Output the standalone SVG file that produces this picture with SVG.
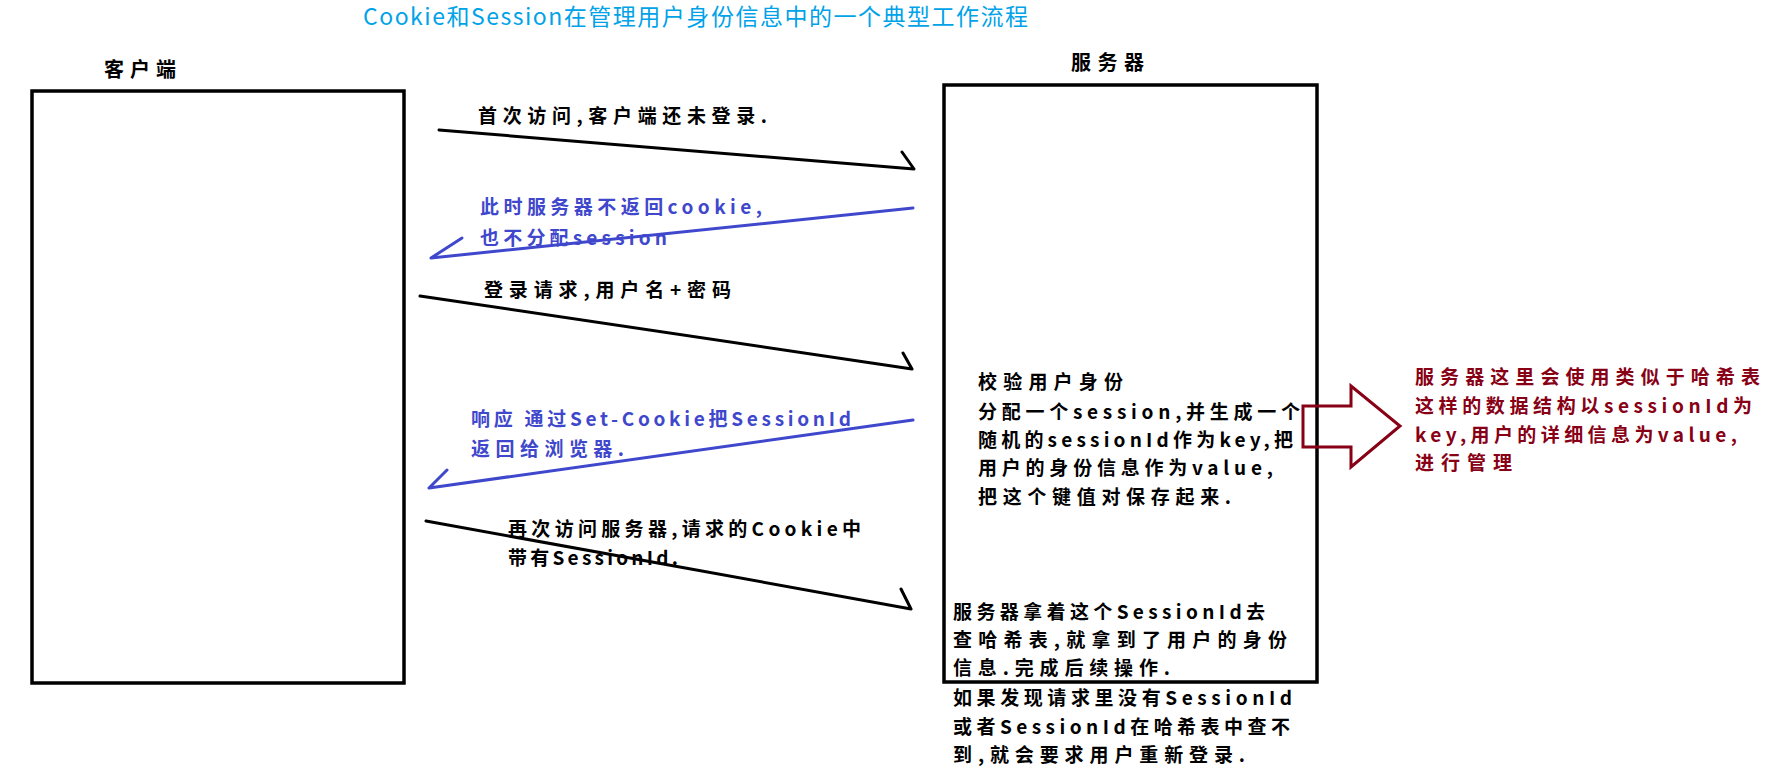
<svg xmlns="http://www.w3.org/2000/svg" width="1768" height="779" viewBox="0 0 1768 779">
<style>
text{font-family:"Noto Sans CJK SC","Noto Sans",sans-serif;font-size:19px;font-weight:bold}
.k{fill:#000}
.b{fill:#3F48CC}
.r{fill:#880015}
.t{fill:#00A2E8;font-size:23px;font-weight:normal}
.h{font-size:20px}
.box{fill:none;stroke:#000;stroke-width:3.5}
.ak{fill:none;stroke:#000;stroke-width:3;stroke-linecap:round;stroke-linejoin:round}
.ab{fill:none;stroke:#3F48CC;stroke-width:3;stroke-linecap:round;stroke-linejoin:round}
.ar{fill:none;stroke:#880015;stroke-width:3}
</style>
<rect width="1768" height="779" fill="#fff"/>
<text class="t" x="363" y="25" textLength="665">Cookie和Session在管理用户身份信息中的一个典型工作流程</text>
<g id="client">
<rect class="box" x="32" y="91" width="372" height="592"/>
<text class="k h" x="104" y="77" textLength="72">客户端</text>
</g>
<g id="server">
<rect class="box" x="944" y="85" width="373" height="597"/>
<text class="k h" x="1071" y="70" textLength="73">服务器</text>
<text class="k" x="978" y="389" textLength="145">校验用户身份</text>
<text class="k" x="978" y="418.5" textLength="322">分配一个session,并生成一个</text>
<text class="k" x="978" y="447" textLength="315">随机的sessionId作为key,把</text>
<text class="k" x="978" y="475" textLength="295">用户的身份信息作为value,</text>
<text class="k" x="978" y="503.5" textLength="253">把这个键值对保存起来.</text>
<text class="k" x="953" y="618.5" textLength="312">服务器拿着这个SessionId去</text>
<text class="k" x="953" y="647" textLength="334">查哈希表,就拿到了用户的身份</text>
<text class="k" x="953" y="675" textLength="217">信息.完成后续操作.</text>
<text class="k" x="953" y="705" textLength="339">如果发现请求里没有SessionId</text>
<text class="k" x="953" y="733.5" textLength="337">或者SessionId在哈希表中查不</text>
<text class="k" x="953" y="762" textLength="292">到,就会要求用户重新登录.</text>
</g>
<g id="note">
<polygon class="ar" points="1303,406 1351,406 1351,386 1400,426 1351,467 1351,447 1303,447"/>
<text class="r" x="1415" y="384" textLength="345">服务器这里会使用类似于哈希表</text>
<text class="r" x="1415" y="413" textLength="337">这样的数据结构以sessionId为</text>
<text class="r" x="1415" y="442" textLength="322">key,用户的详细信息为value,</text>
<text class="r" x="1415" y="470" textLength="97">进行管理</text>
</g>
<g id="connectors">
<path class="ak" d="M439,130 L914,169 M902,152 L914,169"/>
<path class="ab" d="M913,208 L431,258 M431,258 L462,238"/>
<path class="ak" d="M420,296 L912,369 M903,353 L912,369"/>
<path class="ab" d="M913,420 L429,488 M429,488 L447,470"/>
<path class="ak" d="M426,521 L911,609 M901,589 L911,609"/>
<text class="k" x="478" y="123" textLength="289">首次访问,客户端还未登录.</text>
<text class="b" x="480" y="214" textLength="282">此时服务器不返回cookie,</text>
<text class="b" x="480" y="245" textLength="187">也不分配session</text>
<text class="k" x="484" y="297" textLength="247">登录请求,用户名+密码</text>
<text class="b" x="471" y="426" textLength="380">响应 通过Set-Cookie把SessionId</text>
<text class="b" x="471" y="456" textLength="153">返回给浏览器.</text>
<text class="k" x="508" y="536" textLength="353">再次访问服务器,请求的Cookie中</text>
<text class="k" x="508" y="565" textLength="170">带有SessionId.</text>
</g>
</svg>
